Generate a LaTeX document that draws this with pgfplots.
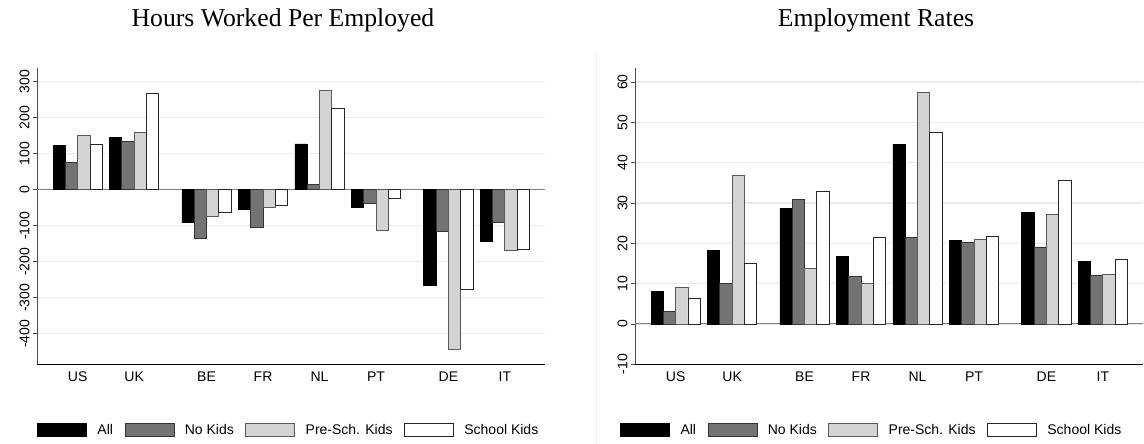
\documentclass[border=0pt]{standalone}
\usepackage{fontspec}
\setmainfont{Liberation Serif}
\newfontfamily\arial{Liberation Sans}
\usepackage{pgfplots}
\usepackage{pgfplotstable}
\pgfplotsset{compat=1.18}
\definecolor{nokids}{HTML}{737373}
\definecolor{presch}{HTML}{D3D3D3}
\definecolor{gridgray}{HTML}{EAEAEA}

\pgfplotstableread{
x all nokids presch school
0 124 75 150 125
1 146 134 159 268
2.28 -92 -136 -74 -63
3.28 -56 -104 -49 -43
4.28 127 15 276 227
5.28 -50 -38 -112 -24
6.56 -267 -115 -444 -277
7.56 -144 -92 -170 -165
}\hours
\pgfplotstableread{
x all nokids presch school
0 8.1 3.15 9.1 6.4
1 18.3 10.0 36.8 15.0
2.28 28.7 31.0 13.7 32.8
3.28 16.8 11.7 10.0 21.5
4.28 44.6 21.4 57.4 47.6
5.28 20.8 20.2 21.1 21.8
6.56 27.7 19.1 27.1 35.7
7.56 15.5 12.0 12.2 16.1
}\emp

\pgfplotsset{
  mystyle/.style={
    scale only axis, width=508pt, height=296.3pt,
    xmin=-0.72, xmax=8.27,
    axis x line=bottom, axis y line=left,
    x axis line style={draw=black, line width=0.9pt, -},
    y axis line style={draw=black!70, line width=0.9pt, -},
    xtick={0,1,2.28,3.28,4.28,5.28,6.56,7.56},
    xticklabels={US,UK,BE,FR,NL,PT,DE,IT},
    xtick style={draw=none},
    ytick style={draw=black!70, line width=0.8pt},
    tick align=outside, major tick length=4pt,
    xticklabel style={font=\arial\fontsize{14}{14}\selectfont, text=black},
    yticklabel style={rotate=90, anchor=south, font=\arial\fontsize{14}{14}\selectfont, text=black},
    ymajorgrids, major grid style={draw=gridgray, line width=1.3pt},
    extra y ticks={0}, extra y tick labels={},
    extra y tick style={grid=major, major grid style={draw=black!50, line width=1pt}, major tick length=0pt},
    ybar=0pt, bar width=12.3pt,
    legend columns=4,
    legend style={draw=none, fill=none, inner sep=0pt, anchor=west,
      font=\arial\fontsize{14}{16}\selectfont,
      /tikz/every even column/.append style={column sep=9.5pt},
      /tikz/every odd column/.append style={column sep=8.5pt}},
    every axis plot post/.append style={legend image code/.code={\draw[##1, line width=0.8pt] (0pt,-6.15pt) rectangle (49pt,6.15pt);}},
  },
  sAll/.style={fill=black, draw=black, line width=0.8pt},
  sNo/.style={fill=nokids, draw=black!80, line width=0.8pt},
  sPre/.style={fill=presch, draw=black!65, line width=0.8pt},
  sSch/.style={fill=white, draw=black!85, line width=0.8pt},
}

\begin{document}
\begin{tikzpicture}
\useasboundingbox (0,0) rectangle (1144pt,444pt);
\fill[white] (0,0) rectangle (1144pt,444pt);
\draw[black!6, line width=0.8pt] (596pt,0) -- (596pt,391pt);

\node[anchor=base, font=\fontsize{25.7}{30}\selectfont] at (283pt,417pt) {Hours Worked Per Employed};
\node[anchor=base, font=\fontsize{25.7}{30}\selectfont] at (876pt,417pt) {Employment Rates};

\begin{axis}[mystyle, at={(37pt,79.7pt)}, anchor=south west,
  ymin=-485, ymax=338,
  ytick={-400,-300,-200,-100,0,100,200,300},
  yticklabels={-400,-300,-200,-100,0,100,200,300},
  legend style={at={(0,-0.2217)}}]
\addplot[sAll] table[x=x,y=all]{\hours};
\addplot[sNo] table[x=x,y=nokids]{\hours};
\addplot[sPre] table[x=x,y=presch]{\hours};
\addplot[sSch] table[x=x,y=school]{\hours};
\legend{All,No Kids,Pre-Sch. Kids,School Kids}
\end{axis}

\begin{axis}[mystyle, at={(635pt,79.7pt)}, anchor=south west,
  ymin=-10, ymax=63.5,
  ytick={-10,0,10,20,30,40,50,60},
  yticklabels={-10,0,10,20,30,40,50,60},
  legend style={at={(-0.0295,-0.2217)}}]
\addplot[sAll] table[x=x,y=all]{\emp};
\addplot[sNo] table[x=x,y=nokids]{\emp};
\addplot[sPre] table[x=x,y=presch]{\emp};
\addplot[sSch] table[x=x,y=school]{\emp};
\legend{All,No Kids,Pre-Sch. Kids,School Kids}
\end{axis}
\end{tikzpicture}
\end{document}
